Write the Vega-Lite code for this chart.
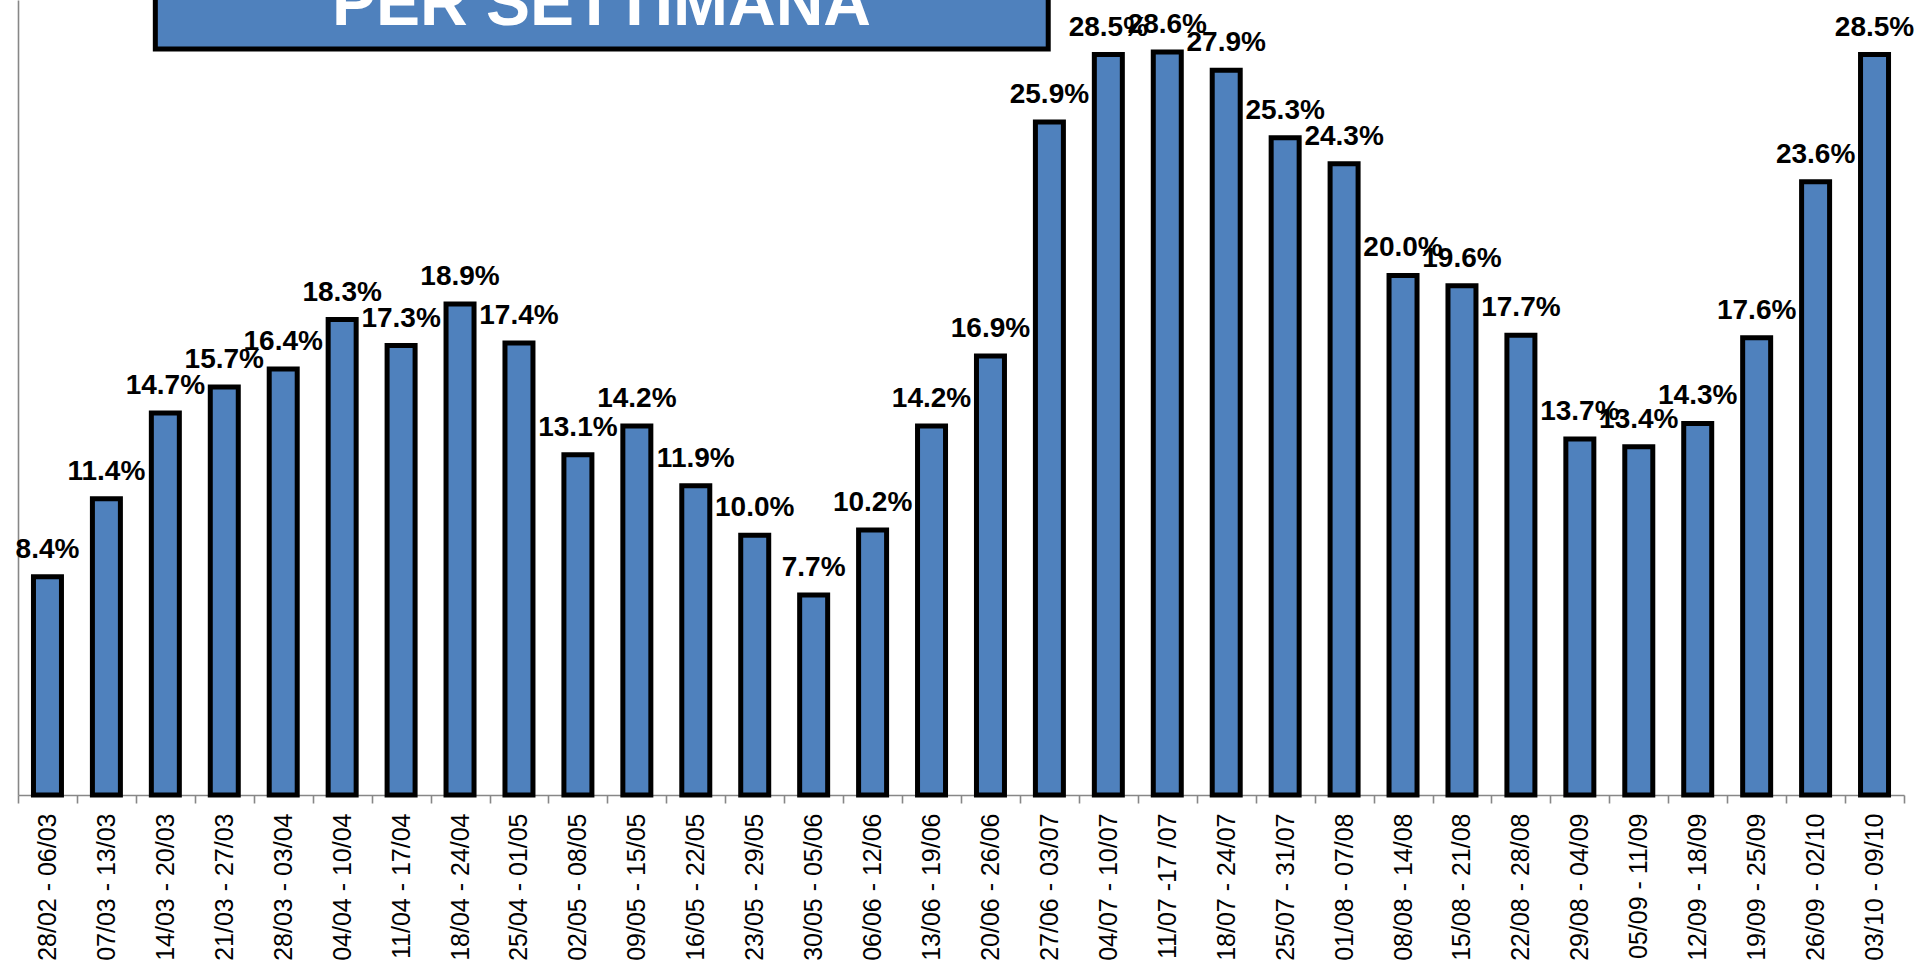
{
  "$schema": "https://vega.github.io/schema/vega-lite/v6.json",
  "width": 1886,
  "height": 795,
  "autosize": {"type": "none"},
  "padding": {"left": 18, "top": 0, "right": 11, "bottom": 178},
  "background": "white",
  "datasets": {
    "weeks": [
      {"week": "28/02 - 06/03", "share": 0.084},
      {"week": "07/03 - 13/03", "share": 0.114},
      {"week": "14/03 - 20/03", "share": 0.147},
      {"week": "21/03 - 27/03", "share": 0.157},
      {"week": "28/03 - 03/04", "share": 0.164},
      {"week": "04/04 - 10/04", "share": 0.183},
      {"week": "11/04 - 17/04", "share": 0.173},
      {"week": "18/04 - 24/04", "share": 0.189},
      {"week": "25/04 - 01/05", "share": 0.174},
      {"week": "02/05 - 08/05", "share": 0.131},
      {"week": "09/05 - 15/05", "share": 0.142},
      {"week": "16/05 - 22/05", "share": 0.119},
      {"week": "23/05 - 29/05", "share": 0.100},
      {"week": "30/05 - 05/06", "share": 0.077},
      {"week": "06/06 - 12/06", "share": 0.102},
      {"week": "13/06 - 19/06", "share": 0.142},
      {"week": "20/06 - 26/06", "share": 0.169},
      {"week": "27/06 - 03/07", "share": 0.259},
      {"week": "04/07 - 10/07", "share": 0.285},
      {"week": "11/07 -17 /07", "share": 0.286},
      {"week": "18/07 - 24/07", "share": 0.279},
      {"week": "25/07 - 31/07", "share": 0.253},
      {"week": "01/08 - 07/08", "share": 0.243},
      {"week": "08/08 - 14/08", "share": 0.200},
      {"week": "15/08 - 21/08", "share": 0.196},
      {"week": "22/08 - 28/08", "share": 0.177},
      {"week": "29/08 - 04/09", "share": 0.137},
      {"week": "05/09 - 11/09", "share": 0.134},
      {"week": "12/09 - 18/09", "share": 0.143},
      {"week": "19/09 - 25/09", "share": 0.176},
      {"week": "26/09 - 02/10", "share": 0.236},
      {"week": "03/10 - 09/10", "share": 0.285}
    ]
  },
  "config": {
    "view": {"stroke": null},
    "axisY": {
      "labels": false,
      "ticks": false,
      "grid": false,
      "title": null,
      "domain": true,
      "domainColor": "#878787",
      "domainWidth": 1.6
    }
  },
  "resolve": {"scale": {"x": "independent"}},
  "layer": [
    {
      "data": {"name": "weeks"},
      "mark": {"type": "bar", "width": {"band": 0.475}, "fill": "#4F81BD", "stroke": "#000000", "strokeWidth": 5},
      "encoding": {
        "x": {
          "field": "week",
          "type": "nominal",
          "sort": null,
          "scale": {"paddingInner": 0, "paddingOuter": 0},
          "axis": {
            "title": null,
            "orient": "bottom",
            "domainColor": "#878787",
            "domainWidth": 1.6,
            "ticks": true,
            "tickBand": "extent",
            "tickColor": "#878787",
            "tickWidth": 1.6,
            "tickSize": 8,
            "labelAngle": 270,
            "labelAlign": "right",
            "labelBaseline": "middle",
            "labelPadding": 10,
            "labelFont": "Liberation Sans",
            "labelFontSize": 25,
            "labelColor": "#000000",
            "labelOverlap": false,
            "labelLimit": 0
          }
        },
        "y": {"field": "share", "type": "quantitative", "scale": {"domain": [0, 0.306], "nice": false, "zero": true}}
      }
    },
    {
      "data": {"name": "weeks"},
      "mark": {"type": "text", "font": "Liberation Sans", "fontWeight": "bold", "fontSize": 28, "dy": -19, "baseline": "alphabetic", "align": "center", "color": "#000000"},
      "encoding": {
        "x": {"field": "week", "type": "nominal", "sort": null, "scale": {"paddingInner": 0, "paddingOuter": 0}, "axis": null},
        "y": {"field": "share", "type": "quantitative"},
        "text": {"field": "share", "type": "quantitative", "format": ".1%"}
      }
    },
    {
      "data": {"values": [{}]},
      "mark": {"type": "rect", "fill": "#4F81BD", "stroke": "#000000", "strokeWidth": 5},
      "encoding": {
        "x": {"datum": 2.33, "type": "quantitative", "scale": {"domain": [0, 32], "nice": false, "zero": false}, "axis": null},
        "x2": {"datum": 17.48},
        "y": {"datum": 0.34, "type": "quantitative"},
        "y2": {"datum": 0.2871}
      }
    },
    {
      "data": {"values": [{}]},
      "mark": {"type": "text", "text": "PER SETTIMANA", "font": "Liberation Sans", "fontWeight": "bold", "fontSize": 66, "align": "center", "baseline": "alphabetic", "color": "#FFFFFF"},
      "encoding": {
        "x": {"datum": 9.9, "type": "quantitative", "scale": {"domain": [0, 32], "nice": false, "zero": false}, "axis": null},
        "y": {"datum": 0.2965, "type": "quantitative"}
      }
    }
  ]
}
